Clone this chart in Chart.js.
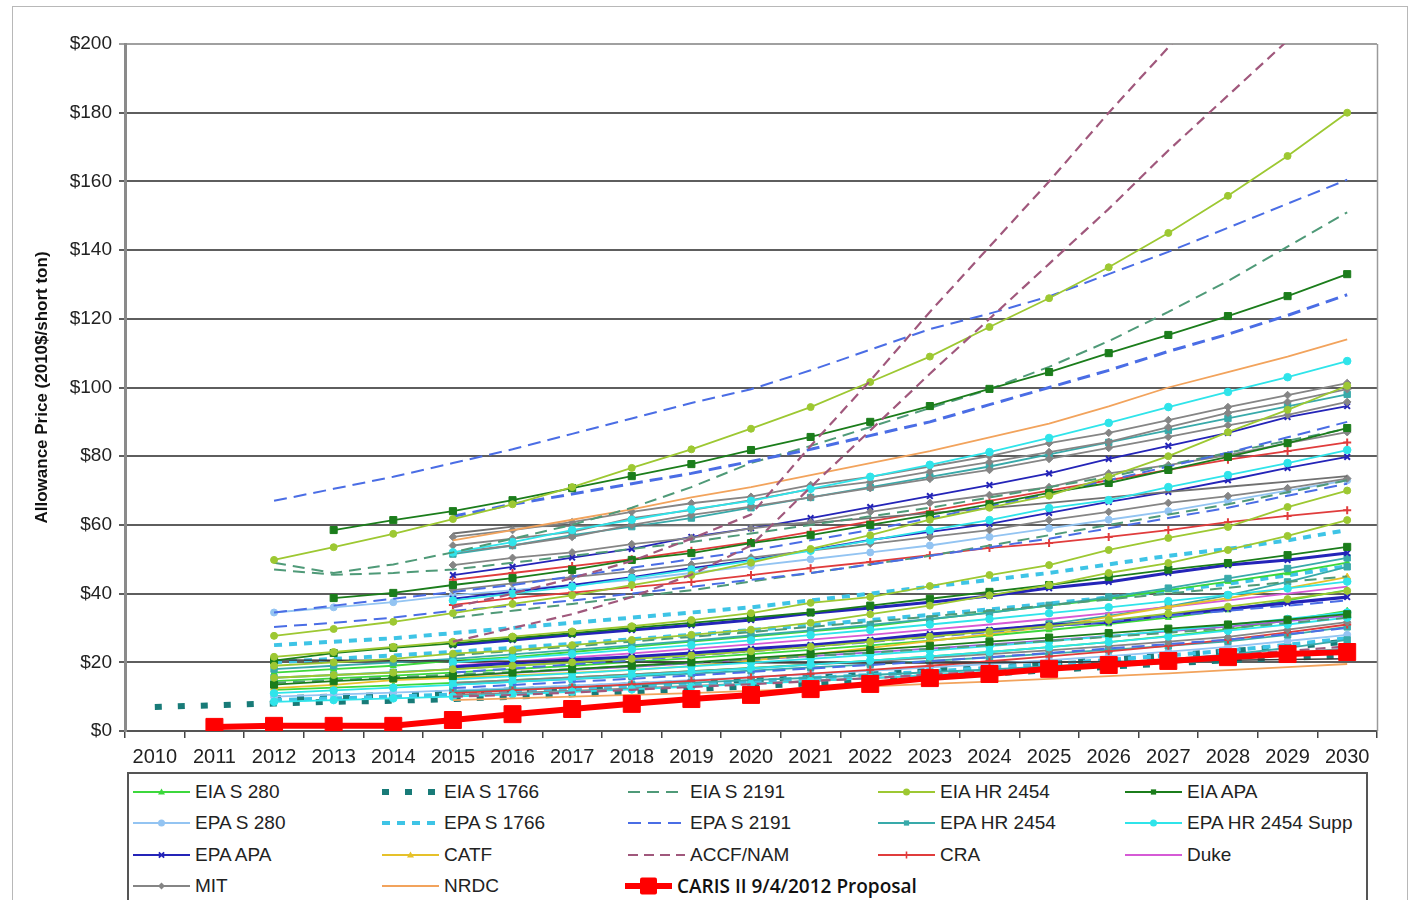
<!DOCTYPE html>
<html><head><meta charset="utf-8">
<script src="https://cdn.jsdelivr.net/npm/chart.js@4.4.1/dist/chart.umd.min.js"></script>
<style>
html,body{margin:0;padding:0;background:#fff;}
#wrap{position:relative;width:1418px;height:900px;overflow:hidden;background:#fff;}
#frame{position:absolute;left:12px;top:6px;width:1396px;height:900px;border:1px solid #b8b8b8;box-sizing:border-box;}
#c{position:absolute;left:0;top:0;}
#legend{position:absolute;left:127px;top:772px;width:1241px;height:140px;border:2px solid #555;box-sizing:border-box;background:#fff;}
.item{position:absolute;height:26px;display:flex;align-items:center;white-space:nowrap;font-family:"Liberation Sans",Arial,sans-serif;font-size:19px;color:#222;}
.item svg{display:block;margin-right:5px;}
.item.caris{font-family:"Open Sans","Noto Sans",sans-serif;font-size:19px;font-weight:600;color:#111;}
</style></head>
<body><div id="wrap"><div id="frame"></div><canvas id="c" width="1418" height="900"></canvas><div id="legend"></div></div>
<script>
const n = null;
const years = ['2010','2011','2012','2013','2014','2015','2016','2017','2018','2019','2020','2021','2022','2023','2024','2025','2026','2027','2028','2029','2030'];
const yTickValues = [0,20,40,60,80,100,120,140,160,180,200];

const caris = [n,1.2,1.5,1.5,1.5,3.2,4.9,6.4,7.9,9.3,10.5,12.2,13.7,15.4,16.6,18.1,19.2,20.4,21.5,22.4,23.0];

const accf1 = [n,n,n,n,n,36,40,44.5,49.5,56,63,83,102,122,141,160,180,199,219,n,n];
const accf2 = [n,n,n,n,n,26,30,34,39,45.5,54,71,87.5,104,120,136,152,169,185,201,217];
const accf3 = [n,n,n,n,n,10,10.5,11.2,12,12.8,13.6,14.5,15.4,16.4,17.4,18.5,19.6,20.8,22,23.3,24.6];

const eiaHr1 = [n,n,49.8,53.5,57.4,61.7,66,71,76.6,82,88,94.3,101.6,109,117.6,126,135,145,155.8,167.4,180];
const eiaHr2 = [n,n,27.7,29.7,31.8,34.3,37,39.5,42.5,45.4,49,53,57,61.5,65,68.5,74,80,87,93.5,100.5];
const eiaHr3 = [n,n,21.6,23,24.5,26,27.5,29,30.5,32.3,34.3,37.3,39,42.2,45.4,48.3,52.7,56.2,59.4,65.2,70];
const eiaHr4 = [n,n,19,20,21,22.5,23.5,25,26.5,28,29.5,31.5,34,36.5,39.5,42.5,46,48.9,52.7,56.8,61.4];
const eiaHr5 = [n,n,15.5,16.3,17,18,19,20,21,22,23.2,24.5,26,27.5,29,30.5,32.3,34.2,36.2,38.4,40.8];

const eiaApa1 = [n,n,n,58.5,61.4,64,67.2,70.7,74.2,77.7,81.8,85.6,90,94.6,99.6,104.5,110,115.3,120.8,126.6,133];
const eiaApa2 = [n,n,n,38.7,40.2,42.5,44.5,46.9,49.8,51.8,54.7,57,60,62.9,66,69.3,72.2,76,79.8,83.8,88.2];
const eiaApa3 = [n,n,20.5,22.7,24.2,25.5,27,28.5,30,31.5,33,34.5,36.5,38.5,40.5,42.5,44.8,47,48.9,51.2,53.6];
const eiaApa4 = [n,n,13.5,14.5,15.3,16,17,18,19,20,21.2,22.4,23.6,24.8,26,27.2,28.5,29.8,31,32.4,34];

const epaS2191a = [n,n,67,70.5,74,78,82,86.5,91,95.5,99.5,105,111,117,121.5,126.5,133,139.5,146.5,153.5,160.5];
const epaS2191b = [n,n,n,n,n,62.5,66,69,72,75,78.5,82,86,90,95,100,105,110.5,115.5,121,127];
const epaS2191c = [n,n,34.5,36.5,38.5,40.5,42.5,45,47.5,50,52.5,55.5,58.5,62,65.5,69,73,77,81,85.5,90];
const epaS2191d = [n,n,30.3,31.5,33,35,36.5,38,40,42,44,46,48.5,51,53.5,56,59,62,65,68.5,72];
const epaS2191e = [n,n,n,n,n,17,18.2,19.4,20.6,21.9,23.2,24.5,25.9,27.3,28.8,30.3,31.9,33.5,35,36.5,38];
const epaS2191f = [n,n,n,n,n,12.5,13.4,14.3,15.2,16.2,17.2,18.2,19.2,20.3,21.5,22.7,24,25.3,26.6,28.2,30];

const eiaS2191a = [n,n,49,46,48.5,52,56,60,65,71,78,83,88.5,94,99.5,106,113.5,122,131,141,151];
const eiaS2191b = [n,n,47,45.5,46,47,49,51,53,55,57.5,60,62.5,65,68,71,74,77.5,81,84.5,88];
const eiaS2191c = [n,n,n,n,n,33,35,37,39,41,43.5,46,48.5,51,54,57,60,63,66,69.5,73];
const eiaS2191d = [n,n,n,n,n,22,23.3,24.6,26,27.4,28.8,30.3,31.8,33.3,35,36.6,38.3,40,41.7,43.4,45];
const eiaS2191e = [n,n,14,14.8,15.6,16.4,17.2,18,18.9,19.8,20.8,21.8,22.8,23.9,25,26.2,27.4,28.6,29.9,31.4,33];

const mit1 = [n,n,n,n,n,56.5,58.5,60.8,63.8,66.3,68.2,71.6,74,77,80,83.8,86.8,90.5,94.3,97.8,101.3];
const mit2 = [n,n,n,n,n,54,56,58,62,64.3,67.2,70.4,72.5,75.5,78.3,81.2,84.2,88.5,92.6,95.8,99.5];
const mit3 = [n,n,n,n,n,52,54,56.5,60,62.9,65.3,68,70.7,73.4,76,79.2,82.4,85.6,89,92,95.8];
const mit4 = [n,n,n,n,n,48.3,50.4,52,54.4,56.2,59,60.8,63.8,66.4,68.7,71,75,77.4,80.3,83.8,87];
const mit5 = [n,n,n,n,n,57.5,59.5,59.7,59.8,59.9,60,60.5,62,63.4,64.9,66.4,68,69.6,71.1,72.6,74.2];
const mit6 = [n,n,n,n,n,41,43,44.8,46.5,48.5,50.5,52.5,54.5,56.5,58.5,61.4,63.8,66.4,68.4,70.7,73.5];
const mit7 = [n,n,20.7,20.6,20.5,20.4,20.3,20.2,20.1,20,19.9,19.8,19.8,19.8,19.9,20,20.2,20.4,20.6,20.8,21];
const mit8 = [n,n,n,n,n,14,14.8,15.6,16.5,17.4,18.3,19.3,20.3,21.3,22.4,23.5,24.7,26,27.4,29.5,31.7];
const mit9 = [n,n,n,n,n,10.5,11.1,11.7,12.4,13.1,13.8,14.6,15.4,16.2,17,17.9,18.8,19.8,20.9,22.4,24];

const epaApa1 = [n,n,n,n,n,45.4,47.8,50.5,53,56.5,59,62,65.2,68.4,71.6,75,79.2,83,86.8,91.4,94.6];
const epaApa2 = [n,n,n,n,n,38.5,40.5,42.5,44.8,47.4,49.8,52.7,55.6,58,60.3,63.5,66.7,69.6,73,76.6,79.8];
const epaApa3 = [n,n,n,n,n,25,26.5,28,29.4,30.8,32.3,34.3,35.8,37.5,39.3,41.6,43.4,46,48.3,49.8,51.8];
const epaApa4 = [n,n,n,n,n,18.6,19.8,20.7,21.6,22.7,23.9,25,26.5,28.2,29.4,30.8,31.7,33.8,35.5,37.3,39];

const cra1 = [n,n,n,n,n,44,46,48,50,52.5,55,58,61,64,67,70,73,76,79,81.5,84];
const cra2 = [n,n,n,n,n,36.7,38.7,40.3,41.9,43.4,45.4,47.4,49.2,51.2,53.3,54.7,56.5,58.5,60.8,62.6,64.3];
const cra3 = [n,n,n,n,n,11,11.8,12.7,13.6,14.6,15.6,16.7,17.8,19,20.3,21.7,23.2,24.8,26.6,28.7,31];

const catf = [n,n,12.5,13.4,14.8,15.5,16.2,16.9,17.8,18.9,20.5,22.3,24.2,26.2,28.2,30.3,33.2,36.1,38.7,41.6,44.8];

const duke1 = [n,n,n,n,n,19,20.2,21.4,22.6,23.9,25.2,26.6,28,29.5,31,32.6,34.3,36.1,38,40,42];
const duke2 = [n,n,n,n,n,16,16.9,17.8,18.7,19.7,20.7,21.8,22.9,24,25.2,26.4,27.7,29,30.4,32,33.6];

const nrdc1 = [n,n,n,n,n,55.5,58.5,61.5,64.5,68,71,74.5,78,81.5,85.5,89.5,94.5,100,104.5,109,114];
const nrdc2 = [n,n,n,n,n,9,9.5,10,10.5,11,11.7,12.3,13,13.7,14.4,15.2,16,16.8,17.7,18.6,19.5];

const supp1 = [n,n,n,n,n,52,55,58.5,61.5,64.5,67,70.5,74,77.5,81.2,85.3,89.7,94.3,98.7,103,107.7];
const supp2 = [n,n,n,n,n,38,40,42,44.5,47,49.5,52.5,55.5,58.5,61.4,64.9,67.2,71,74.5,78,81.8];
const supp3 = [n,n,8.5,9,9.5,10,10.7,11.4,12.1,12.9,13.7,14.5,15.4,16.3,17.3,18.3,19.3,20.4,21.5,22.7,24];
const supp4 = [n,n,11,11.8,12.6,13.4,14.3,15.2,16.2,17.2,18.2,19.3,20.5,21.7,23,24.4,25.9,27.5,29.2,31,33];
const supp5 = [n,n,n,n,n,15,15.9,16.8,17.8,18.8,19.9,21,22.2,23.4,24.7,26.1,27.6,29.2,30.9,32.6,34.5];
const supp6 = [n,n,n,n,n,20,21.2,22.4,23.7,25,26.4,27.9,29.4,31,32.6,34.3,36,37.8,39.6,41.5,43.5];

const epaHr1 = [n,n,n,n,n,51.5,54,57,59.5,62,65,68,71,74,77,80.5,84,87.5,91,94.5,98];
const epaHr2 = [n,n,18,19,20,21,22.3,23.6,24.9,26.3,27.8,29.3,30.9,32.6,34.4,36.6,39,41.6,44.4,47.3,50.4];
const epaHr3 = [n,n,15.5,16.3,17.1,18,19,20,21.1,22.2,23.4,24.7,26.1,27.6,29.2,31.2,33.5,36.3,39.5,43.4,47.8];
const epaHr4 = [n,n,n,n,n,13.5,14.3,15.1,15.9,16.7,17.6,18.5,19.4,20.4,21.4,22.5,23.6,24.8,26.1,28,30.3];
const epaHr5 = [n,n,n,n,n,11.5,12.1,12.7,13.4,14.1,14.8,15.5,16.3,17.1,17.9,18.8,19.8,20.9,22.2,24.2,26.5];

const eiaS280a = [n,n,17,18,19,20.5,21.5,23,24.5,26,27.5,29,30.5,32.5,34.5,36.5,38.5,41,43.5,46,49];
const eiaS280b = [n,n,14.5,15.3,16.1,17,18,19,20.1,21.2,22.4,23.6,24.9,26.3,27.8,29.4,31.1,33,35.2,38,41];
const eiaS280c = [n,n,12,12.6,13.3,14,14.8,15.6,16.5,17.4,18.4,19.4,20.5,21.7,23,24.4,25.9,27.6,29.6,32.2,35];

const epaS280a = [n,n,34.5,36,37.5,39.5,41,42.5,44,46,48,50,52,54,56.5,59,61.5,64,67,70,73];
const epaS280b = [n,n,10,10.6,11.2,11.8,12.5,13.2,14,14.8,15.7,16.6,17.5,18.5,19.5,20.6,21.8,23.1,24.5,26.2,28];

const epaS1766a = [n,n,25,26,27,28.5,30,31.5,33,34.5,36,38,40,42,44,46,48.5,51,53,55.5,58.5];
const epaS1766b = [n,n,9,9.5,10,10.6,11.3,12,12.8,13.6,14.5,15.4,16.3,17.3,18.4,19.5,20.7,22,23.4,25.1,27];
const epaS1766c = [n,n,20,21,22,23,24.2,25.4,26.7,28,29.4,30.8,32.3,33.8,35.4,37.1,38.9,40.8,42.9,45.3,48];

const eiaS1766a = [7,7.5,8,8.5,8.8,9.3,10,10.7,11.4,12.2,13,13.9,14.8,15.7,16.7,17.7,18.7,19.7,20.6,21.3,22];
const eiaS1766b = [n,n,9.5,10,10.5,11.1,11.8,12.5,13.3,14.1,15,15.9,16.8,17.8,18.8,19.8,20.9,22,23.2,24.5,26];

const groups = {
  'EIA S 280':        {color:'#3cd83c', dash:[], width:1.8, point:'triangle', r:3.5},
  'EIA S 1766':       {color:'#187b78', dash:[7,16], width:6, point:null},
  'EIA S 2191':       {color:'#4f9a78', dash:[12,7], width:2, point:null},
  'EIA HR 2454':      {color:'#9dc832', dash:[], width:1.8, point:'circle', r:3.5},
  'EIA APA':          {color:'#1b7d1b', dash:[], width:1.8, point:'rect', r:5},
  'EPA S 280':        {color:'#93c4f2', dash:[], width:1.8, point:'circle', r:3.5},
  'EPA S 1766':       {color:'#3ec4e6', dash:[8,7], width:4, point:null},
  'EPA S 2191':       {color:'#4a6de5', dash:[13,7], width:2, point:null},
  'EPA HR 2454':      {color:'#38aaaa', dash:[], width:1.8, point:'rect', r:4.5},
  'EPA HR 2454 Supp': {color:'#2fe4ea', dash:[], width:1.8, point:'circle', r:3.8},
  'EPA APA':          {color:'#2424b8', dash:[], width:1.8, point:'crossRot', r:4},
  'CATF':             {color:'#e6c12a', dash:[], width:1.8, point:'triangle', r:4},
  'ACCF/NAM':         {color:'#a0587c', dash:[10,6], width:2.2, point:null},
  'CRA':              {color:'#e03c3c', dash:[], width:1.8, point:'cross', r:4},
  'Duke':             {color:'#d65ad6', dash:[], width:1.8, point:null},
  'MIT':              {color:'#858585', dash:[], width:1.8, point:'rectRot', r:3.8},
  'NRDC':             {color:'#f2a35c', dash:[], width:1.8, point:null},
  'CARIS II 9/4/2012 Proposal': {color:'#ff0000', dash:[], width:6, point:'rect', r:12}
};

const seriesList = [
  ['CARIS II 9/4/2012 Proposal', caris],
  ['ACCF/NAM', accf1], ['ACCF/NAM', accf2], ['ACCF/NAM', accf3],
  ['EIA HR 2454', eiaHr1], ['EIA HR 2454', eiaHr2], ['EIA HR 2454', eiaHr3], ['EIA HR 2454', eiaHr4], ['EIA HR 2454', eiaHr5],
  ['EIA APA', eiaApa1], ['EIA APA', eiaApa2], ['EIA APA', eiaApa3], ['EIA APA', eiaApa4],
  ['EPA S 2191', epaS2191a], ['EPA S 2191', epaS2191b, {borderWidth:3}], ['EPA S 2191', epaS2191c], ['EPA S 2191', epaS2191d], ['EPA S 2191', epaS2191e], ['EPA S 2191', epaS2191f],
  ['EIA S 2191', eiaS2191a], ['EIA S 2191', eiaS2191b], ['EIA S 2191', eiaS2191c], ['EIA S 2191', eiaS2191d], ['EIA S 2191', eiaS2191e],
  ['NRDC', nrdc1], ['NRDC', nrdc2],
  ['EPA HR 2454 Supp', supp1], ['EPA HR 2454 Supp', supp2], ['EPA HR 2454 Supp', supp3], ['EPA HR 2454 Supp', supp4], ['EPA HR 2454 Supp', supp5], ['EPA HR 2454 Supp', supp6],
  ['MIT', mit1], ['MIT', mit2], ['MIT', mit3], ['MIT', mit4], ['MIT', mit5, {pointRadius:0, borderColor:'#707070'}], ['MIT', mit6], ['MIT', mit7, {pointRadius:0, borderColor:'#3a3a3a', borderWidth:1.5}], ['MIT', mit8], ['MIT', mit9],
  ['EPA APA', epaApa1], ['EPA APA', epaApa2], ['EPA APA', epaApa3, {borderWidth:3}], ['EPA APA', epaApa4, {borderWidth:3.2}],
  ['CRA', cra1], ['CRA', cra2], ['CRA', cra3],
  ['CATF', catf],
  ['Duke', duke1], ['Duke', duke2, {borderColor:'#a35ad6'}],
  ['EPA HR 2454', epaHr1], ['EPA HR 2454', epaHr2], ['EPA HR 2454', epaHr3], ['EPA HR 2454', epaHr4], ['EPA HR 2454', epaHr5],
  ['EIA S 280', eiaS280a], ['EIA S 280', eiaS280b], ['EIA S 280', eiaS280c],
  ['EPA S 280', epaS280a], ['EPA S 280', epaS280b],
  ['EPA S 1766', epaS1766a], ['EPA S 1766', epaS1766b], ['EPA S 1766', epaS1766c],
  ['EIA S 1766', eiaS1766a], ['EIA S 1766', eiaS1766b]
];

function makeDataset(group, data, extra) {
  const g = groups[group];
  const d = {
    label: group, data: data,
    borderColor: g.color, backgroundColor: g.color,
    borderWidth: g.width, borderDash: g.dash,
    fill: false, tension: 0, spanGaps: false,
    pointStyle: g.point || 'circle',
    pointRadius: g.point ? g.r : 0,
    pointHoverRadius: 0,
    pointBackgroundColor: g.color, pointBorderColor: g.color,
    pointBorderWidth: (g.point === 'cross' || g.point === 'crossRot') ? 2 : 1
  };
  return Object.assign(d, extra || {});
}

const FONT = '"Liberation Sans", Arial, sans-serif';
Chart.defaults.font.family = FONT;

const framePlugin = {
  id: 'frame',
  afterDraw(chart) {
    const {ctx, chartArea: a} = chart;
    ctx.save();
    ctx.strokeStyle = '#9a9a9a';
    ctx.lineWidth = 1.5;
    ctx.beginPath();
    ctx.moveTo(a.right + 0.5, a.top);
    ctx.lineTo(a.right + 0.5, a.bottom);
    ctx.stroke();
    ctx.restore();
  }
};

new Chart(document.getElementById('c'), {
  type: 'line',
  data: { labels: years, datasets: seriesList.map(s => makeDataset(s[0], s[1], s[2])) },
  options: {
    responsive: false, animation: false, devicePixelRatio: 1,
    layout: { padding: { top: 44, right: 41, left: 0, bottom: 124 } },
    plugins: { legend: { display: false }, tooltip: { enabled: false } },
    events: [],
    scales: {
      x: {
        type: 'category', offset: true,
        grid: { display: true, drawOnChartArea: false, drawTicks: true, tickLength: 7, offset: true, color: '#444', lineWidth: 1.5 },
        border: { color: '#555', width: 2 },
        ticks: { font: { size: 20 }, color: '#222', padding: 7, maxRotation: 0, autoSkip: false },
        afterFit: s => { s.height = 45; }
      },
      y: {
        min: 0, max: 200,
        afterBuildTicks: s => { s.ticks = yTickValues.map(v => ({ value: v })); },
        ticks: { callback: v => '$' + v, font: { size: 19 }, color: '#222', padding: 7 },
        grid: {
          color: ctx => (ctx.tick && ctx.tick.value === 200) ? '#a0a0a0' : '#5e5e5e',
          lineWidth: 2, tickLength: 6, drawTicks: true
        },
        border: { color: '#8a8a8a', width: 3 },
        title: { display: true, text: 'Allowance Price (2010$/short ton)', font: { size: 17, weight: 'bold' }, color: '#111', padding: { top: 32, bottom: 0 } },
        afterFit: s => { s.width = 125; }
      }
    }
  },
  plugins: [framePlugin]
});

// ---- HTML legend ----
const legendLayout = [
  ['EIA S 280', 0, 0], ['EIA S 1766', 1, 0], ['EIA S 2191', 2, 0], ['EIA HR 2454', 3, 0], ['EIA APA', 4, 0],
  ['EPA S 280', 0, 1], ['EPA S 1766', 1, 1], ['EPA S 2191', 2, 1], ['EPA HR 2454', 3, 1], ['EPA HR 2454 Supp', 4, 1],
  ['EPA APA', 0, 2], ['CATF', 1, 2], ['ACCF/NAM', 2, 2], ['CRA', 3, 2], ['Duke', 4, 2],
  ['MIT', 0, 3], ['NRDC', 1, 3], ['CARIS II 9/4/2012 Proposal', 2, 3]
];
const colX = [133, 382, 628, 878, 1125];
const rowY = [792, 823, 855, 886];

function markerSvg(style, cx, cy, r, c) {
  switch (style) {
    case 'circle': return `<circle cx="${cx}" cy="${cy}" r="${r}" fill="${c}"/>`;
    case 'rect': { const h = r * 0.75; return `<rect x="${cx-h}" y="${cy-h}" width="${2*h}" height="${2*h}" fill="${c}"/>`; }
    case 'rectRot': return `<polygon points="${cx},${cy-r} ${cx+r},${cy} ${cx},${cy+r} ${cx-r},${cy}" fill="${c}"/>`;
    case 'triangle': return `<polygon points="${cx},${cy-r} ${cx+r},${cy+r*0.7} ${cx-r},${cy+r*0.7}" fill="${c}"/>`;
    case 'cross': return `<path d="M${cx} ${cy-r}V${cy+r}M${cx-r} ${cy}H${cx+r}" stroke="${c}" stroke-width="1.6"/>`;
    case 'crossRot': { const h = r * 0.75; return `<path d="M${cx-h} ${cy-h}L${cx+h} ${cy+h}M${cx+h} ${cy-h}L${cx-h} ${cy+h}" stroke="${c}" stroke-width="1.8"/>`; }
  }
  return '';
}

const wrap = document.getElementById('wrap');
legendLayout.forEach(([name, col, row]) => {
  const g = groups[name];
  const isCaris = name.startsWith('CARIS');
  const w = isCaris ? 47 : 57;
  const x0 = isCaris ? 625 : colX[col];
  const h = 26, cy = 13;
  const dash = g.dash.length ? `stroke-dasharray="${g.dash.join(' ')}"` : '';
  const lw = isCaris ? 6 : (g.width > 3 ? g.width : 2);
  let svg = `<svg width="${w}" height="${h}" viewBox="0 0 ${w} ${h}"><line x1="0" y1="${cy}" x2="${w}" y2="${cy}" stroke="${g.color}" stroke-width="${lw}" ${dash}/>`;
  if (isCaris) svg += `<rect x="${w/2-8.5}" y="${cy-8.5}" width="17" height="17" rx="2" fill="${g.color}"/>`;
  else if (g.point) svg += markerSvg(g.point, w / 2, cy, 3.5, g.color);
  svg += '</svg>';
  const div = document.createElement('div');
  div.className = 'item' + (isCaris ? ' caris' : '');
  div.style.left = x0 + 'px';
  div.style.top = (rowY[row] - h / 2) + 'px';
  div.innerHTML = svg + '<span>' + name + '</span>';
  wrap.appendChild(div);
});
</script>
</body></html>
